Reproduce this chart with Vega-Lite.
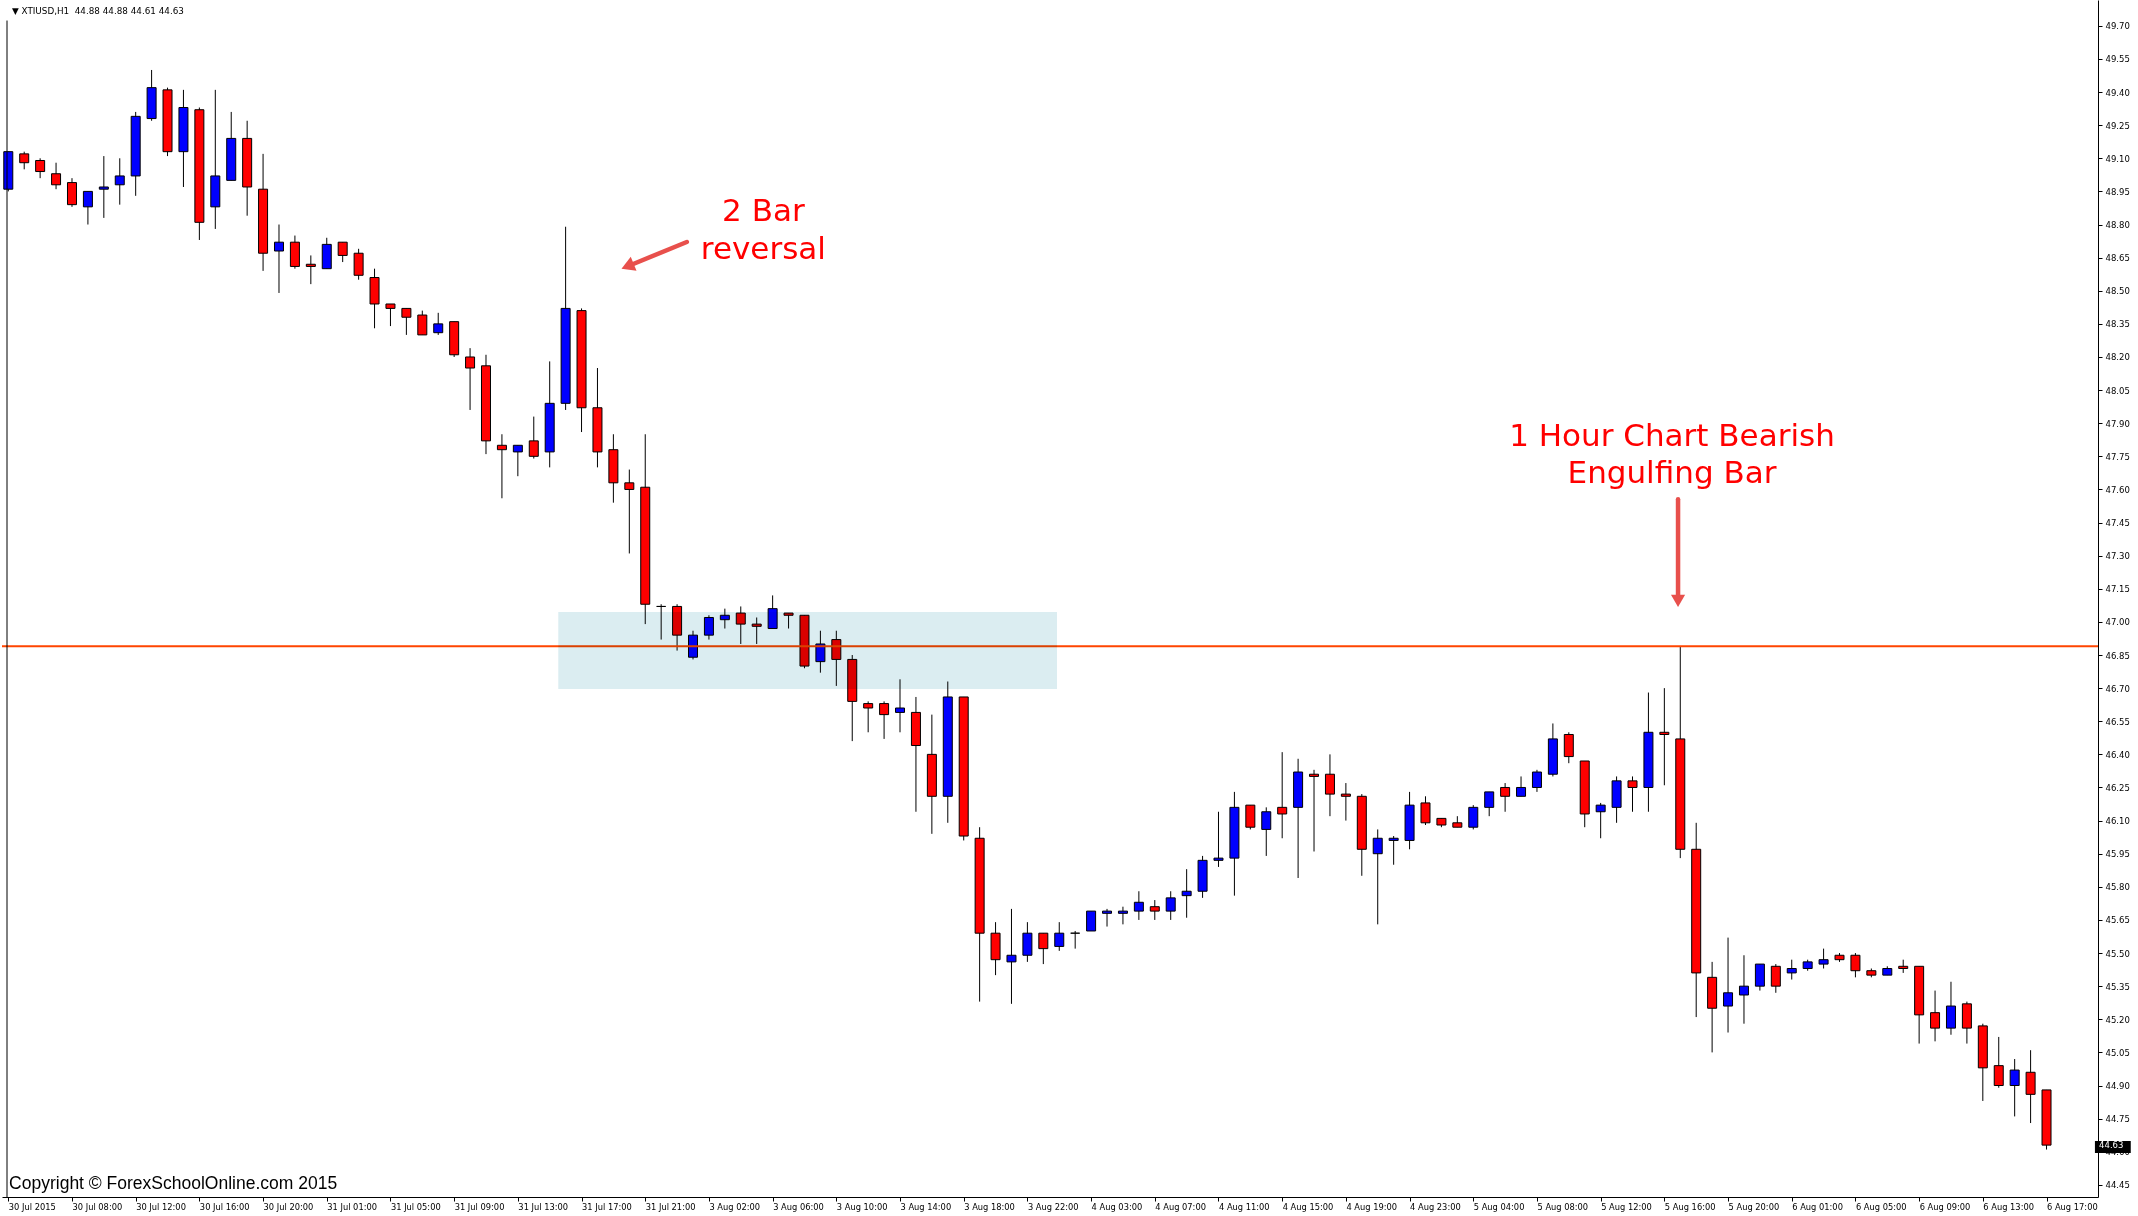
{
  "$schema": "https://vega.github.io/schema/vega-lite/v6.json",
  "width": 2096,
  "height": 1197,
  "autosize": {"type": "none"},
  "padding": {"left": 2, "top": 0, "right": 40, "bottom": 19},
  "background": "white",
  "config": {"view": {"stroke": null}},
  "resolve": {"axis": {"x": "independent", "y": "independent"}},
  "datasets": {
    "bars": [
    {"i":0,"o":48.96,"h":49.13,"l":48.95,"c":49.13},
    {"i":1,"o":49.12,"h":49.13,"l":49.05,"c":49.08},
    {"i":2,"o":49.09,"h":49.10,"l":49.01,"c":49.04},
    {"i":3,"o":49.03,"h":49.08,"l":48.96,"c":48.98},
    {"i":4,"o":48.99,"h":49.01,"l":48.88,"c":48.89},
    {"i":5,"o":48.88,"h":48.95,"l":48.80,"c":48.95},
    {"i":6,"o":48.96,"h":49.11,"l":48.83,"c":48.97},
    {"i":7,"o":48.98,"h":49.10,"l":48.89,"c":49.02},
    {"i":8,"o":49.02,"h":49.31,"l":48.93,"c":49.29},
    {"i":9,"o":49.28,"h":49.50,"l":49.27,"c":49.42},
    {"i":10,"o":49.41,"h":49.42,"l":49.11,"c":49.13},
    {"i":11,"o":49.13,"h":49.41,"l":48.97,"c":49.33},
    {"i":12,"o":49.32,"h":49.33,"l":48.73,"c":48.81},
    {"i":13,"o":48.88,"h":49.41,"l":48.78,"c":49.02},
    {"i":14,"o":49.00,"h":49.31,"l":49.00,"c":49.19},
    {"i":15,"o":49.19,"h":49.27,"l":48.84,"c":48.97},
    {"i":16,"o":48.96,"h":49.12,"l":48.59,"c":48.67},
    {"i":17,"o":48.68,"h":48.80,"l":48.49,"c":48.72},
    {"i":18,"o":48.72,"h":48.75,"l":48.60,"c":48.61},
    {"i":19,"o":48.62,"h":48.66,"l":48.53,"c":48.61},
    {"i":20,"o":48.60,"h":48.74,"l":48.60,"c":48.71},
    {"i":21,"o":48.72,"h":48.72,"l":48.63,"c":48.66},
    {"i":22,"o":48.67,"h":48.69,"l":48.55,"c":48.57},
    {"i":23,"o":48.56,"h":48.60,"l":48.33,"c":48.44},
    {"i":24,"o":48.44,"h":48.44,"l":48.34,"c":48.42},
    {"i":25,"o":48.42,"h":48.42,"l":48.30,"c":48.38},
    {"i":26,"o":48.39,"h":48.41,"l":48.30,"c":48.30},
    {"i":27,"o":48.31,"h":48.40,"l":48.30,"c":48.35},
    {"i":28,"o":48.36,"h":48.36,"l":48.20,"c":48.21},
    {"i":29,"o":48.20,"h":48.24,"l":47.96,"c":48.15},
    {"i":30,"o":48.16,"h":48.21,"l":47.76,"c":47.82},
    {"i":31,"o":47.80,"h":47.85,"l":47.56,"c":47.78},
    {"i":32,"o":47.77,"h":47.80,"l":47.66,"c":47.80},
    {"i":33,"o":47.82,"h":47.93,"l":47.74,"c":47.75},
    {"i":34,"o":47.77,"h":48.18,"l":47.70,"c":47.99},
    {"i":35,"o":47.99,"h":48.79,"l":47.96,"c":48.42},
    {"i":36,"o":48.41,"h":48.42,"l":47.86,"c":47.97},
    {"i":37,"o":47.97,"h":48.15,"l":47.70,"c":47.77},
    {"i":38,"o":47.78,"h":47.85,"l":47.54,"c":47.63},
    {"i":39,"o":47.63,"h":47.69,"l":47.31,"c":47.60},
    {"i":40,"o":47.61,"h":47.85,"l":46.99,"c":47.08},
    {"i":41,"o":47.07,"h":47.08,"l":46.92,"c":47.07},
    {"i":42,"o":47.07,"h":47.08,"l":46.87,"c":46.94},
    {"i":43,"o":46.84,"h":46.96,"l":46.83,"c":46.94},
    {"i":44,"o":46.94,"h":47.03,"l":46.92,"c":47.02},
    {"i":45,"o":47.01,"h":47.06,"l":46.97,"c":47.03},
    {"i":46,"o":47.04,"h":47.07,"l":46.90,"c":46.99},
    {"i":47,"o":46.99,"h":47.02,"l":46.90,"c":46.98},
    {"i":48,"o":46.97,"h":47.12,"l":46.97,"c":47.06},
    {"i":49,"o":47.04,"h":47.04,"l":46.97,"c":47.03},
    {"i":50,"o":47.03,"h":47.03,"l":46.79,"c":46.80},
    {"i":51,"o":46.82,"h":46.96,"l":46.77,"c":46.90},
    {"i":52,"o":46.92,"h":46.96,"l":46.71,"c":46.83},
    {"i":53,"o":46.83,"h":46.85,"l":46.46,"c":46.64},
    {"i":54,"o":46.63,"h":46.64,"l":46.50,"c":46.61},
    {"i":55,"o":46.63,"h":46.64,"l":46.47,"c":46.58},
    {"i":56,"o":46.59,"h":46.74,"l":46.50,"c":46.61},
    {"i":57,"o":46.59,"h":46.66,"l":46.14,"c":46.44},
    {"i":58,"o":46.40,"h":46.58,"l":46.04,"c":46.21},
    {"i":59,"o":46.21,"h":46.73,"l":46.09,"c":46.66},
    {"i":60,"o":46.66,"h":46.66,"l":46.01,"c":46.03},
    {"i":61,"o":46.02,"h":46.07,"l":45.28,"c":45.59},
    {"i":62,"o":45.59,"h":45.64,"l":45.40,"c":45.47},
    {"i":63,"o":45.46,"h":45.70,"l":45.27,"c":45.49},
    {"i":64,"o":45.49,"h":45.64,"l":45.46,"c":45.59},
    {"i":65,"o":45.59,"h":45.59,"l":45.45,"c":45.52},
    {"i":66,"o":45.53,"h":45.64,"l":45.51,"c":45.59},
    {"i":67,"o":45.59,"h":45.60,"l":45.52,"c":45.59},
    {"i":68,"o":45.60,"h":45.69,"l":45.60,"c":45.69},
    {"i":69,"o":45.68,"h":45.70,"l":45.62,"c":45.69},
    {"i":70,"o":45.68,"h":45.71,"l":45.63,"c":45.69},
    {"i":71,"o":45.69,"h":45.78,"l":45.65,"c":45.73},
    {"i":72,"o":45.71,"h":45.74,"l":45.65,"c":45.69},
    {"i":73,"o":45.69,"h":45.78,"l":45.65,"c":45.75},
    {"i":74,"o":45.76,"h":45.88,"l":45.66,"c":45.78},
    {"i":75,"o":45.78,"h":45.94,"l":45.75,"c":45.92},
    {"i":76,"o":45.92,"h":46.14,"l":45.89,"c":45.93},
    {"i":77,"o":45.93,"h":46.23,"l":45.76,"c":46.16},
    {"i":78,"o":46.17,"h":46.17,"l":46.06,"c":46.07},
    {"i":79,"o":46.06,"h":46.16,"l":45.94,"c":46.14},
    {"i":80,"o":46.16,"h":46.41,"l":46.02,"c":46.13},
    {"i":81,"o":46.16,"h":46.38,"l":45.84,"c":46.32},
    {"i":82,"o":46.31,"h":46.33,"l":45.96,"c":46.30},
    {"i":83,"o":46.31,"h":46.40,"l":46.12,"c":46.22},
    {"i":84,"o":46.22,"h":46.27,"l":46.10,"c":46.21},
    {"i":85,"o":46.21,"h":46.22,"l":45.85,"c":45.97},
    {"i":86,"o":45.95,"h":46.06,"l":45.63,"c":46.02},
    {"i":87,"o":46.01,"h":46.03,"l":45.90,"c":46.02},
    {"i":88,"o":46.01,"h":46.23,"l":45.97,"c":46.17},
    {"i":89,"o":46.18,"h":46.21,"l":46.08,"c":46.09},
    {"i":90,"o":46.11,"h":46.11,"l":46.07,"c":46.08},
    {"i":91,"o":46.09,"h":46.12,"l":46.07,"c":46.07},
    {"i":92,"o":46.07,"h":46.17,"l":46.06,"c":46.16},
    {"i":93,"o":46.16,"h":46.23,"l":46.12,"c":46.23},
    {"i":94,"o":46.25,"h":46.27,"l":46.14,"c":46.21},
    {"i":95,"o":46.21,"h":46.30,"l":46.21,"c":46.25},
    {"i":96,"o":46.25,"h":46.33,"l":46.23,"c":46.32},
    {"i":97,"o":46.31,"h":46.54,"l":46.30,"c":46.47},
    {"i":98,"o":46.49,"h":46.50,"l":46.36,"c":46.39},
    {"i":99,"o":46.37,"h":46.37,"l":46.07,"c":46.13},
    {"i":100,"o":46.14,"h":46.18,"l":46.02,"c":46.17},
    {"i":101,"o":46.16,"h":46.30,"l":46.09,"c":46.28},
    {"i":102,"o":46.28,"h":46.30,"l":46.14,"c":46.25},
    {"i":103,"o":46.25,"h":46.68,"l":46.14,"c":46.50},
    {"i":104,"o":46.50,"h":46.70,"l":46.26,"c":46.49},
    {"i":105,"o":46.47,"h":46.89,"l":45.93,"c":45.97},
    {"i":106,"o":45.97,"h":46.09,"l":45.21,"c":45.41},
    {"i":107,"o":45.39,"h":45.46,"l":45.05,"c":45.25},
    {"i":108,"o":45.26,"h":45.57,"l":45.14,"c":45.32},
    {"i":109,"o":45.31,"h":45.49,"l":45.18,"c":45.35},
    {"i":110,"o":45.35,"h":45.45,"l":45.33,"c":45.45},
    {"i":111,"o":45.44,"h":45.45,"l":45.32,"c":45.35},
    {"i":112,"o":45.41,"h":45.47,"l":45.38,"c":45.43},
    {"i":113,"o":45.43,"h":45.47,"l":45.42,"c":45.46},
    {"i":114,"o":45.45,"h":45.52,"l":45.43,"c":45.47},
    {"i":115,"o":45.49,"h":45.50,"l":45.46,"c":45.47},
    {"i":116,"o":45.49,"h":45.50,"l":45.39,"c":45.42},
    {"i":117,"o":45.42,"h":45.43,"l":45.39,"c":45.40},
    {"i":118,"o":45.40,"h":45.44,"l":45.40,"c":45.43},
    {"i":119,"o":45.44,"h":45.47,"l":45.41,"c":45.43},
    {"i":120,"o":45.44,"h":45.44,"l":45.09,"c":45.22},
    {"i":121,"o":45.23,"h":45.33,"l":45.10,"c":45.16},
    {"i":122,"o":45.16,"h":45.37,"l":45.13,"c":45.26},
    {"i":123,"o":45.27,"h":45.28,"l":45.09,"c":45.16},
    {"i":124,"o":45.17,"h":45.18,"l":44.83,"c":44.98},
    {"i":125,"o":44.99,"h":45.12,"l":44.89,"c":44.90},
    {"i":126,"o":44.90,"h":45.02,"l":44.76,"c":44.97},
    {"i":127,"o":44.96,"h":45.06,"l":44.73,"c":44.86},
    {"i":128,"o":44.88,"h":44.88,"l":44.61,"c":44.63}
    ],
    "one": [{"k": 1}]
  },
  "layer": [
    {
      "data": {"name": "bars"},
      "mark": {"type": "rule", "color": "#000000", "strokeWidth": 1, "clip": true},
      "encoding": {
        "x": {
          "field": "i", "type": "quantitative",
          "scale": {"domain": [-0.081, 130.919], "nice": false, "zero": false},
          "axis": {
            "title": null, "orient": "bottom", "grid": false,
            "values": [0,4,8,12,16,20,24,28,32,36,40,44,48,52,56,60,64,68,72,76,80,84,88,92,96,100,104,108,112,116,120,124,128],
            "labelExpr": "['30 Jul 2015','30 Jul 08:00','30 Jul 12:00','30 Jul 16:00','30 Jul 20:00','31 Jul 01:00','31 Jul 05:00','31 Jul 09:00','31 Jul 13:00','31 Jul 17:00','31 Jul 21:00','3 Aug 02:00','3 Aug 06:00','3 Aug 10:00','3 Aug 14:00','3 Aug 18:00','3 Aug 22:00','4 Aug 03:00','4 Aug 07:00','4 Aug 11:00','4 Aug 15:00','4 Aug 19:00','4 Aug 23:00','5 Aug 04:00','5 Aug 08:00','5 Aug 12:00','5 Aug 16:00','5 Aug 20:00','6 Aug 01:00','6 Aug 05:00','6 Aug 09:00','6 Aug 13:00','6 Aug 17:00'][round(datum.value/4)]",
            "labelAlign": "left", "labelBaseline": "middle", "labelDx": 1, "labelPadding": 6,
            "labelFont": "DejaVu Sans", "labelFontSize": 8.3, "labelColor": "#000000",
            "labelFlush": false, "labelOverlap": false, "labelBound": false,
            "tickColor": "#000000", "tickSize": 4, "tickWidth": 1,
            "domainColor": "#000000", "domainWidth": 1
          }
        },
        "y": {
          "field": "l", "type": "quantitative",
          "scale": {"domain": [44.395, 49.817], "nice": false, "zero": false},
          "axis": {
            "title": null, "orient": "right", "grid": false,
            "values": [44.45,44.6,44.75,44.9,45.05,45.2,45.35,45.5,45.65,45.8,45.95,46.1,46.25,46.4,46.55,46.7,46.85,47.0,47.15,47.3,47.45,47.6,47.75,47.9,48.05,48.2,48.35,48.5,48.65,48.8,48.95,49.1,49.25,49.4,49.55,49.7],
            "format": ".2f",
            "labelFont": "DejaVu Sans", "labelFontSize": 8.5, "labelColor": "#000000",
            "labelPadding": 3, "labelFlush": false, "labelOverlap": false, "labelBound": false,
            "tickColor": "#000000", "tickSize": 4, "tickWidth": 1,
            "domainColor": "#000000", "domainWidth": 1
          }
        },
        "y2": {"field": "h"}
      }
    },
    {
      "data": {"name": "bars"},
      "mark": {"type": "bar", "size": 9, "stroke": "#000000", "strokeWidth": 1, "clip": true},
      "encoding": {
        "x": {"field": "i", "type": "quantitative", "axis": null},
        "y": {"field": "o", "type": "quantitative", "axis": null},
        "y2": {"field": "c"},
        "color": {"condition": {"test": "datum.c < datum.o", "value": "#ff0000"}, "value": "#0000ff"}
      }
    },
    {
      "data": {"name": "one"},
      "mark": {"type": "rule", "color": "#ff4500", "strokeWidth": 2},
      "encoding": {"y": {"datum": 46.89, "type": "quantitative", "axis": null}}
    },
    {
      "data": {"name": "one"},
      "mark": {"type": "rect", "color": "#dbedf1", "opacity": 1, "blend": "multiply"},
      "encoding": {
        "x": {"datum": 34.54, "type": "quantitative", "axis": null}, "x2": {"datum": 65.86},
        "y": {"datum": 47.045, "type": "quantitative", "axis": null}, "y2": {"datum": 46.696}
      }
    },
    {
      "data": {"name": "one"},
      "mark": {"type": "rule", "color": "#000000", "strokeWidth": 1},
      "encoding": {
        "x": {"datum": -0.081, "type": "quantitative", "axis": null},
        "y": {"datum": 49.724, "type": "quantitative", "axis": null}, "y2": {"datum": 44.395}
      }
    },
    {
      "data": {"name": "one"},
      "mark": {"type": "rule", "color": "#e8504c", "strokeWidth": 4.5, "strokeCap": "round"},
      "encoding": {
        "x": {"datum": 42.61, "type": "quantitative", "axis": null}, "x2": {"datum": 39.17},
        "y": {"datum": 48.721, "type": "quantitative", "axis": null}, "y2": {"datum": 48.619}
      }
    },
    {
      "data": {"name": "one"},
      "mark": {"type": "point", "shape": "triangle-up", "filled": true, "color": "#e8504c", "opacity": 1, "size": 230, "angle": 247.7},
      "encoding": {
        "x": {"datum": 38.89, "type": "quantitative", "axis": null},
        "y": {"datum": 48.611, "type": "quantitative", "axis": null}
      }
    },
    {
      "data": {"name": "one"},
      "mark": {"type": "rule", "color": "#e8504c", "strokeWidth": 4.5, "strokeCap": "round"},
      "encoding": {
        "x": {"datum": 104.86, "type": "quantitative", "axis": null},
        "y": {"datum": 47.556, "type": "quantitative", "axis": null}, "y2": {"datum": 47.118}
      }
    },
    {
      "data": {"name": "one"},
      "mark": {"type": "point", "shape": "triangle-down", "filled": true, "color": "#e8504c", "opacity": 1, "size": 200},
      "encoding": {
        "x": {"datum": 104.86, "type": "quantitative", "axis": null},
        "y": {"datum": 47.095, "type": "quantitative", "axis": null}
      }
    },
    {
      "data": {"name": "one"},
      "mark": {"type": "text", "text": "2 Bar", "font": "DejaVu Sans", "fontSize": 31, "color": "#ff0000", "align": "center", "baseline": "alphabetic"},
      "encoding": {"x": {"datum": 47.42, "type": "quantitative", "axis": null}, "y": {"datum": 48.816, "type": "quantitative", "axis": null}}
    },
    {
      "data": {"name": "one"},
      "mark": {"type": "text", "text": "reversal", "font": "DejaVu Sans", "fontSize": 31, "color": "#ff0000", "align": "center", "baseline": "alphabetic"},
      "encoding": {"x": {"datum": 47.42, "type": "quantitative", "axis": null}, "y": {"datum": 48.644, "type": "quantitative", "axis": null}}
    },
    {
      "data": {"name": "one"},
      "mark": {"type": "text", "text": "1 Hour Chart Bearish", "font": "DejaVu Sans", "fontSize": 31, "color": "#ff0000", "align": "center", "baseline": "alphabetic"},
      "encoding": {"x": {"datum": 104.48, "type": "quantitative", "axis": null}, "y": {"datum": 47.798, "type": "quantitative", "axis": null}}
    },
    {
      "data": {"name": "one"},
      "mark": {"type": "text", "text": "Engulfing Bar", "font": "DejaVu Sans", "fontSize": 31, "color": "#ff0000", "align": "center", "baseline": "alphabetic"},
      "encoding": {"x": {"datum": 104.48, "type": "quantitative", "axis": null}, "y": {"datum": 47.628, "type": "quantitative", "axis": null}}
    },
    {
      "data": {"name": "one"},
      "mark": {"type": "text", "text": "▼ XTIUSD,H1\u00a0\u00a044.88 44.88 44.61 44.63", "font": "DejaVu Sans", "fontSize": 8.8, "color": "#000000", "align": "left", "baseline": "alphabetic"},
      "encoding": {"x": {"datum": 0.23, "type": "quantitative", "axis": null}, "y": {"datum": 49.754, "type": "quantitative", "axis": null}}
    },
    {
      "data": {"name": "one"},
      "mark": {"type": "text", "text": "Copyright © ForexSchoolOnline.com 2015", "font": "Liberation Sans", "fontSize": 17.5, "color": "#000000", "align": "left", "baseline": "alphabetic"},
      "encoding": {"x": {"datum": 0.05, "type": "quantitative", "axis": null}, "y": {"datum": 44.431, "type": "quantitative", "axis": null}}
    },
    {
      "data": {"name": "one"},
      "mark": {"type": "rect", "color": "#000000", "opacity": 1},
      "encoding": {
        "x": {"datum": 131.04, "type": "quantitative", "axis": null}, "x2": {"datum": 133.29},
        "y": {"datum": 44.649, "type": "quantitative", "axis": null}, "y2": {"datum": 44.594}
      }
    },
    {
      "data": {"name": "one"},
      "mark": {"type": "text", "text": "44.63", "font": "DejaVu Sans", "fontSize": 8.5, "color": "#ffffff", "align": "left", "baseline": "middle"},
      "encoding": {"x": {"datum": 131.3, "type": "quantitative", "axis": null}, "y": {"datum": 44.63, "type": "quantitative", "axis": null}}
    }
  ]
}
